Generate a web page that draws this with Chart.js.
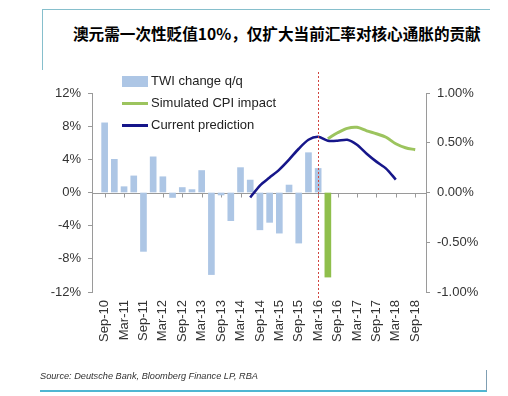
<!DOCTYPE html>
<html>
<head>
<meta charset="utf-8">
<script src="https://cdn.jsdelivr.net/npm/chart.js@4.4.1/dist/chart.umd.min.js"></script>
<style>
  html,body{margin:0;padding:0;background:#fff;}
  body{width:508px;height:396px;position:relative;overflow:hidden;font-family:"Liberation Sans",Arial,sans-serif;}
  #c{position:absolute;left:0;top:0;}
  .frame{position:absolute;}
  #title{position:absolute;left:73px;top:24px;font-family:"Noto Sans CJK SC",sans-serif;font-weight:bold;font-size:15.6px;line-height:18px;color:#000;white-space:nowrap;}
  #source{position:absolute;left:40px;top:371px;font-style:italic;font-size:9.2px;color:#333;white-space:nowrap;}
  #legend{position:absolute;left:120px;top:73px;font-size:13px;color:#222;}
  .li{position:relative;height:22px;line-height:16px;padding-left:31px;white-space:nowrap;}
  .sw{position:absolute;left:2px;}
</style>
</head>
<body>
<div class="frame" style="left:42px;top:9px;width:448px;height:1px;background:#86bfcc;"></div>
<div class="frame" style="left:42px;top:9px;width:1px;height:61px;background:#86bfcc;"></div>
<div class="frame" style="left:40px;top:390px;width:447px;height:2px;background:#4fb6d2;"></div>
<div class="frame" style="left:486px;top:370px;width:1px;height:21px;background:#7f9fb3;"></div>
<div id="title">澳元需一次性贬值10%，仅扩大当前汇率对核心通胀的贡献</div>
<canvas id="c" width="508" height="396"></canvas>
<div id="legend">
  <div class="li"><span class="sw" style="top:3px;width:26px;height:11px;background:#adc6e5;"></span>TWI change q/q</div>
  <div class="li"><span class="sw" style="top:7px;width:26px;height:3px;background:#9cc45e;"></span>Simulated CPI impact</div>
  <div class="li"><span class="sw" style="top:7px;width:26px;height:3px;background:#16168a;"></span>Current prediction</div>
</div>
<div id="source">Source: Deutsche Bank, Bloomberg Finance LP, RBA</div>
<script>
// Quarterly categories (Sep-10 ... Sep-18)
const quarters = ['Sep-10','Dec-10','Mar-11','Jun-11','Sep-11','Dec-11','Mar-12','Jun-12','Sep-12','Dec-12',
  'Mar-13','Jun-13','Sep-13','Dec-13','Mar-14','Jun-14','Sep-14','Dec-14','Mar-15','Jun-15','Sep-15','Dec-15',
  'Mar-16','Jun-16','Sep-16','Dec-16','Mar-17','Jun-17','Sep-17','Dec-17','Mar-18','Jun-18','Sep-18'];
const tickLabels = ['Sep-10','Mar-11','Sep-11','Mar-12','Sep-12','Mar-13','Sep-13','Mar-14','Sep-14',
  'Mar-15','Sep-15','Mar-16','Sep-16','Mar-17','Sep-17','Mar-18','Sep-18'];
// TWI change q/q (%), left axis
const twiChange = [8.4, 4.0, 0.7, 2.0, -7.1, 4.3, 1.9, -0.6, 0.6, 0.35, 2.65, -9.9, -0.3, -3.4, 3.0, 1.5,
  -4.5, -3.6, -4.9, 0.9, -6.1, 4.8, 2.9, null, null, null, null, null, null, null, null, null, null];
// Simulated 10% one-off depreciation (%), left axis
const simulatedShock = [null,null,null,null,null,null,null,null,null,null,null,null,null,null,null,null,
  null,null,null,null,null,null,null,-10.2,null,null,null,null,null,null,null,null,null];
// Core CPI contribution (ppt), right axis
const currentPrediction = [null,null,null,null,null,null,null,null,null,null,null,null,null,null,null,
  -0.05, 0.07, 0.15, 0.23, 0.33, 0.44, 0.53, 0.56, 0.52, 0.52, 0.53, 0.48, 0.39, 0.31, 0.24, 0.13, null, null];
const simulatedCPI = [null,null,null,null,null,null,null,null,null,null,null,null,null,null,null,
  null,null,null,null,null,null,null,null, 0.54, 0.60, 0.645, 0.655, 0.62, 0.59, 0.555, 0.49, 0.45, 0.43];
const leftTicks = [-12, -8, -4, 0, 4, 8, 12];
const rightTicks = [-1, -0.5, 0, 0.5, 1];
const markerQuarter = 'Mar-16';

const pts = arr => arr.map((v, i) => ({x: i, y: v}));
const tickIdx = tickLabels.map(t => quarters.indexOf(t));

const overlay = {
  id: 'overlay',
  beforeDatasetsDraw(chart) {
    const {ctx, chartArea: a, scales} = chart;
    const y0 = Math.round(scales.y.getPixelForValue(0)) + 0.5;
    ctx.save();
    ctx.strokeStyle = '#9a9a9a';
    ctx.lineWidth = 1;
    ctx.beginPath();
    ctx.moveTo(a.left, y0); ctx.lineTo(a.right, y0);
    tickIdx.forEach(i => {
      const x = Math.round(scales.x.getPixelForValue(i)) + 0.5;
      ctx.moveTo(x, y0); ctx.lineTo(x, y0 + 4);
    });
    ctx.stroke();
    ctx.restore();
  },
  afterDatasetsDraw(chart) {
    const {ctx, chartArea: a, scales} = chart;
    const x = Math.round(scales.x.getPixelForValue(quarters.indexOf(markerQuarter))) + 0.5;
    ctx.save();
    ctx.strokeStyle = '#d0453f';
    ctx.lineWidth = 1;
    ctx.setLineDash([2, 2]);
    ctx.beginPath();
    ctx.moveTo(x, a.top - 21); ctx.lineTo(x, a.bottom + 8);
    ctx.stroke();
    ctx.restore();
  }
};

const axisColor = '#9a9a9a';
new Chart(document.getElementById('c'), {
  data: {
    datasets: [
      {type: 'line', label: 'Current prediction', data: pts(currentPrediction), yAxisID: 'y2',
        borderColor: '#16168a', borderWidth: 2.6, pointRadius: 0, tension: 0.25, order: 1},
      {type: 'line', label: 'Simulated CPI impact', data: pts(simulatedCPI), yAxisID: 'y2',
        borderColor: '#9cc45e', borderWidth: 3, pointRadius: 0, tension: 0.3, order: 2},
      {type: 'bar', label: 'TWI change q/q', data: pts(twiChange), yAxisID: 'y',
        backgroundColor: '#adc6e5', barThickness: 6, grouped: false, order: 3},
      {type: 'bar', label: 'Simulated shock', data: pts(simulatedShock), yAxisID: 'y',
        backgroundColor: '#8fbf4c', barThickness: 6, grouped: false, order: 4}
    ]
  },
  options: {
    responsive: false,
    animation: false,
    devicePixelRatio: 1,
    layout: {padding: {top: 93, bottom: 0, left: 0, right: 0}},
    plugins: {legend: {display: false}, tooltip: {enabled: false}},
    scales: {
      x: {
        type: 'linear', position: 'bottom', min: -0.29, max: 32.1,
        afterBuildTicks: s => { s.ticks = tickIdx.map(v => ({value: v})); },
        afterFit: s => { s.height = 104; },
        grid: {display: false, drawTicks: false},
        border: {display: false},
        ticks: {autoSkip: false, maxRotation: 90, minRotation: 90, padding: 8,
          color: '#333', font: {size: 13, family: '"Liberation Sans", Arial, sans-serif'},
          callback: v => quarters[v]}
      },
      y: {
        position: 'left', min: -12, max: 12,
        afterBuildTicks: s => { s.ticks = leftTicks.map(v => ({value: v})); },
        afterFit: s => { s.width = 92; },
        grid: {drawOnChartArea: false, drawTicks: true, tickLength: 4, color: axisColor},
        border: {display: true, color: axisColor},
        ticks: {padding: 7, color: '#333', font: {size: 13, family: '"Liberation Sans", Arial, sans-serif'},
          callback: v => v + '%'}
      },
      y2: {
        position: 'right', min: -1, max: 1,
        afterBuildTicks: s => { s.ticks = rightTicks.map(v => ({value: v})); },
        afterFit: s => { s.width = 82; },
        grid: {drawOnChartArea: false, drawTicks: true, tickLength: 4, color: axisColor},
        border: {display: true, color: axisColor},
        ticks: {padding: 7, color: '#333', font: {size: 13, family: '"Liberation Sans", Arial, sans-serif'},
          callback: v => v.toFixed(2) + '%'}
      }
    }
  },
  plugins: [overlay]
});
</script>
</body>
</html>
